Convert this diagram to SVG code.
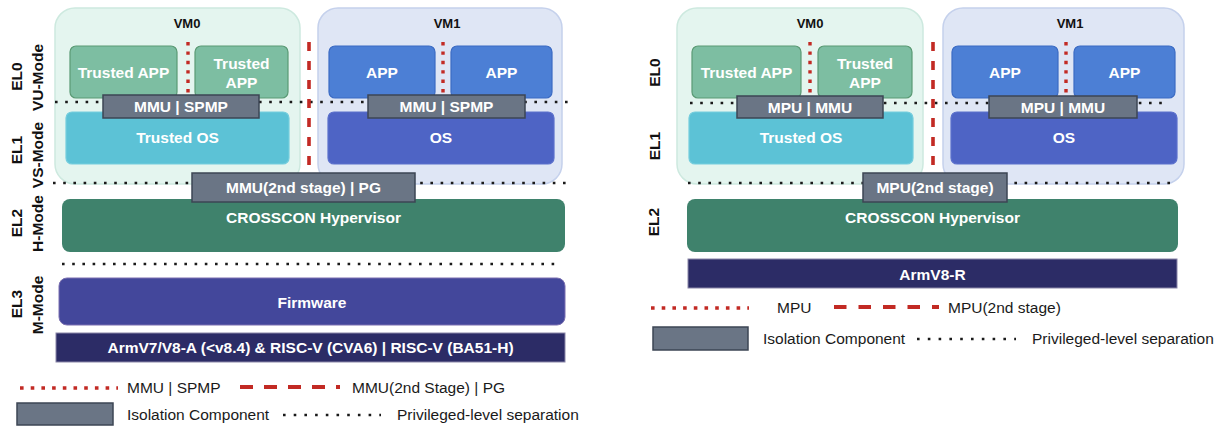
<svg xmlns="http://www.w3.org/2000/svg" width="1227" height="426" viewBox="0 0 1227 426">
  <defs>
    <style>
      text { font-family: "Liberation Sans", Arial, sans-serif; dominant-baseline: central; }
      .lbl { font-size: 15.5px; font-weight: bold; fill: #ffffff; text-anchor: middle; }
      .vm-title { font-size: 13px; font-weight: bold; fill: #111111; text-anchor: middle; }
      .side { font-size: 15.5px; font-weight: bold; fill: #111111; text-anchor: middle; }
      .legend { font-size: 15.5px; fill: #1a1a1a; }
      .vm0 { fill: #e4f5ef; stroke: #cde9df; stroke-width: 1.5; }
      .vm1 { fill: #dfe6f5; stroke: #c5d1ec; stroke-width: 1.5; }
      .tapp { fill: #7dbea2; stroke: #5a9a74; stroke-width: 1.2; }
      .tos { fill: #5cc2d6; stroke: #74cddd; stroke-width: 1.2; }
      .app { fill: #4c7fd5; stroke: #3b6bc4; stroke-width: 1.2; }
      .os { fill: #4e64c5; stroke: #5b70cc; stroke-width: 1.2; }
      .iso { fill: #6a7585; stroke: #3d4654; stroke-width: 1.5; }
      .hyp { fill: #3f826c; }
      .fw { fill: #43479b; stroke: #7a6fb0; stroke-width: 1; }
      .hw { fill: #2c2c66; stroke: #8a86a8; stroke-width: 1; }
      .priv { stroke: #1a1a1a; stroke-width: 2.6; stroke-dasharray: 2.6 7.6; fill: none; }
      .spmp { stroke: #c22a24; stroke-width: 3.4; stroke-dasharray: 3.4 6; fill: none; }
      .stage2 { stroke: #c22a24; stroke-width: 3.6; stroke-dasharray: 9 10; fill: none; }
      .spmp-key { stroke: #c22a24; stroke-width: 3.6; stroke-dasharray: 3.6 7.1; fill: none; }
      .stage2-key { stroke: #c22a24; stroke-width: 4; stroke-dasharray: 13 11; fill: none; }
    </style>
  </defs>

  <!-- ===================== Left stack: MMU based platforms ===================== -->
  <g id="left-vm0"><rect class="vm0" x="55" y="8" width="245" height="176" rx="20"/></g>
  <g id="left-vm1"><rect class="vm1" x="318" y="8" width="244" height="176" rx="20"/></g>

  <g id="left-tapp1"><rect class="tapp" x="70" y="46" width="107" height="52" rx="6"/><text class="lbl" x="123.5" y="72">Trusted APP</text></g>
  <g id="left-tapp2"><rect class="tapp" x="195" y="46" width="93" height="52" rx="6"/><text class="lbl" x="241.5" y="63">Trusted</text><text class="lbl" x="241.5" y="82">APP</text></g>
  <g id="left-tos"><rect class="tos" x="66" y="112" width="223" height="52" rx="6"/><text class="lbl" x="177.5" y="137">Trusted OS</text></g>
  <g id="left-app1"><rect class="app" x="329" y="46" width="106" height="52" rx="6"/><text class="lbl" x="382" y="72">APP</text></g>
  <g id="left-app2"><rect class="app" x="451" y="46" width="101" height="52" rx="6"/><text class="lbl" x="501.5" y="72">APP</text></g>
  <g id="left-os"><rect class="os" x="328" y="112" width="226" height="52" rx="6"/><text class="lbl" x="441" y="137">OS</text></g>

  <g id="left-hyp"><rect class="hyp" x="62" y="199" width="503" height="53" rx="8"/><text class="lbl" x="313.5" y="217">CROSSCON Hypervisor</text></g>
  <g id="left-fw"><rect class="fw" x="59" y="278" width="506" height="47" rx="8"/><text class="lbl" x="312" y="302">Firmware</text></g>
  <g id="left-hw"><rect class="hw" x="56" y="333" width="509" height="29"/><text class="lbl" x="310.5" y="347">ArmV7/V8-A (&lt;v8.4) &amp; RISC-V (CVA6) | RISC-V (BA51-H)</text></g>

  <!-- ===================== Right stack: MPU based platform ===================== -->
  <g id="right-vm0"><rect class="vm0" x="677" y="8" width="246" height="176" rx="20"/></g>
  <g id="right-vm1"><rect class="vm1" x="943" y="8" width="241" height="176" rx="20"/></g>

  <g id="right-tapp1"><rect class="tapp" x="692" y="46" width="109" height="52" rx="6"/><text class="lbl" x="746.5" y="72">Trusted APP</text></g>
  <g id="right-tapp2"><rect class="tapp" x="818" y="46" width="94" height="52" rx="6"/><text class="lbl" x="865" y="63">Trusted</text><text class="lbl" x="865" y="82">APP</text></g>
  <g id="right-tos"><rect class="tos" x="689" y="112" width="224" height="52" rx="6"/><text class="lbl" x="801" y="137">Trusted OS</text></g>
  <g id="right-app1"><rect class="app" x="952" y="46" width="106" height="52" rx="6"/><text class="lbl" x="1005" y="72">APP</text></g>
  <g id="right-app2"><rect class="app" x="1074" y="46" width="101" height="52" rx="6"/><text class="lbl" x="1124.5" y="72">APP</text></g>
  <g id="right-os"><rect class="os" x="951" y="112" width="226" height="52" rx="6"/><text class="lbl" x="1064" y="137">OS</text></g>

  <g id="right-hyp"><rect class="hyp" x="687" y="199" width="491" height="53" rx="8"/><text class="lbl" x="932.5" y="217">CROSSCON Hypervisor</text></g>
  <g id="right-hw"><rect class="hw" x="688" y="259" width="489" height="29"/><text class="lbl" x="932.5" y="274">ArmV8-R</text></g>

  <!-- ===================== Separation lines ===================== -->
  <g id="connectors">
    <!-- privilege level boundaries -->
    <line class="priv" x1="55" y1="102" x2="568" y2="102"/>
    <line class="priv" x1="53" y1="183" x2="569" y2="183"/>
    <line class="priv" x1="62" y1="264" x2="558" y2="264"/>
    <line class="priv" x1="690" y1="103" x2="1169" y2="103"/>
    <line class="priv" x1="688" y1="183" x2="1173" y2="183"/>
    <!-- intra-VM isolation -->
    <line class="spmp" x1="188" y1="42" x2="188" y2="94"/>
    <line class="spmp" x1="443" y1="42" x2="443" y2="94"/>
    <line class="spmp" x1="810" y1="42" x2="810" y2="94"/>
    <line class="spmp" x1="1066" y1="42" x2="1066" y2="94"/>
    <!-- inter-VM isolation -->
    <line class="stage2" x1="309" y1="42" x2="309" y2="172"/>
    <line class="stage2" x1="933" y1="42" x2="933" y2="172"/>
  </g>

  <!-- ===================== Isolation components ===================== -->
  <g id="left-iso-vm0"><rect class="iso" x="103" y="95" width="156" height="23"/><text class="lbl" x="181" y="106.5">MMU | SPMP</text></g>
  <g id="left-iso-vm1"><rect class="iso" x="368" y="95" width="157" height="23"/><text class="lbl" x="446.5" y="106.5">MMU | SPMP</text></g>
  <g id="left-iso-stage2"><rect class="iso" x="192" y="173" width="223" height="29"/><text class="lbl" x="303.5" y="187.5">MMU(2nd stage) | PG</text></g>
  <g id="right-iso-vm0"><rect class="iso" x="737" y="96" width="146" height="22"/><text class="lbl" x="810" y="107">MPU | MMU</text></g>
  <g id="right-iso-vm1"><rect class="iso" x="989" y="96" width="148" height="22"/><text class="lbl" x="1063" y="107">MPU | MMU</text></g>
  <g id="right-iso-stage2"><rect class="iso" x="863" y="173" width="144" height="29"/><text class="lbl" x="935" y="187.5">MPU(2nd stage)</text></g>

  <!-- VM titles -->
  <g id="vm-titles">
    <text class="vm-title" x="187" y="23">VM0</text>
    <text class="vm-title" x="447" y="23">VM1</text>
    <text class="vm-title" x="810" y="23">VM0</text>
    <text class="vm-title" x="1070" y="23">VM1</text>
  </g>

  <!-- Privilege level labels -->
  <g id="levels">
    <text class="side" transform="translate(16,76.5) rotate(-90)">EL0</text>
    <text class="side" transform="translate(37,77.5) rotate(-90)">VU-Mode</text>
    <text class="side" transform="translate(16,150) rotate(-90)">EL1</text>
    <text class="side" transform="translate(37,155) rotate(-90)">VS-Mode</text>
    <text class="side" transform="translate(16,223) rotate(-90)">EL2</text>
    <text class="side" transform="translate(37,223.5) rotate(-90)">H-Mode</text>
    <text class="side" transform="translate(16,304) rotate(-90)">EL3</text>
    <text class="side" transform="translate(37,305) rotate(-90)">M-Mode</text>
    <text class="side" transform="translate(654,72.5) rotate(-90)">EL0</text>
    <text class="side" transform="translate(654,146) rotate(-90)">EL1</text>
    <text class="side" transform="translate(653,222) rotate(-90)">EL2</text>
  </g>

  <!-- ===================== Legends ===================== -->
  <g id="left-legend">
    <line class="spmp-key" x1="20" y1="388" x2="118" y2="388"/>
    <text class="legend" x="127" y="387">MMU | SPMP</text>
    <line class="stage2-key" x1="240" y1="387" x2="340" y2="387"/>
    <text class="legend" x="352" y="387">MMU(2nd Stage) | PG</text>
    <rect class="iso" x="17" y="403" width="96" height="22"/>
    <text class="legend" x="127" y="414">Isolation Component</text>
    <line class="priv" x1="283" y1="415" x2="381" y2="415" style="stroke-dasharray: 2.6 8.1"/>
    <text class="legend" x="397" y="414">Privileged-level separation</text>
  </g>
  <g id="right-legend">
    <line class="spmp-key" x1="651" y1="308" x2="749" y2="308"/>
    <text class="legend" x="777" y="307">MPU</text>
    <line class="stage2-key" x1="834" y1="307" x2="939" y2="307" style="stroke-dasharray: 12.5 12"/>
    <text class="legend" x="948" y="307">MPU(2nd stage)</text>
    <rect class="iso" x="653" y="327" width="95" height="23"/>
    <text class="legend" x="763" y="338">Isolation Component</text>
    <line class="priv" x1="917" y1="339" x2="1016" y2="339" style="stroke-dasharray: 2.6 8.2"/>
    <text class="legend" x="1032" y="338">Privileged-level separation</text>
  </g>
</svg>
